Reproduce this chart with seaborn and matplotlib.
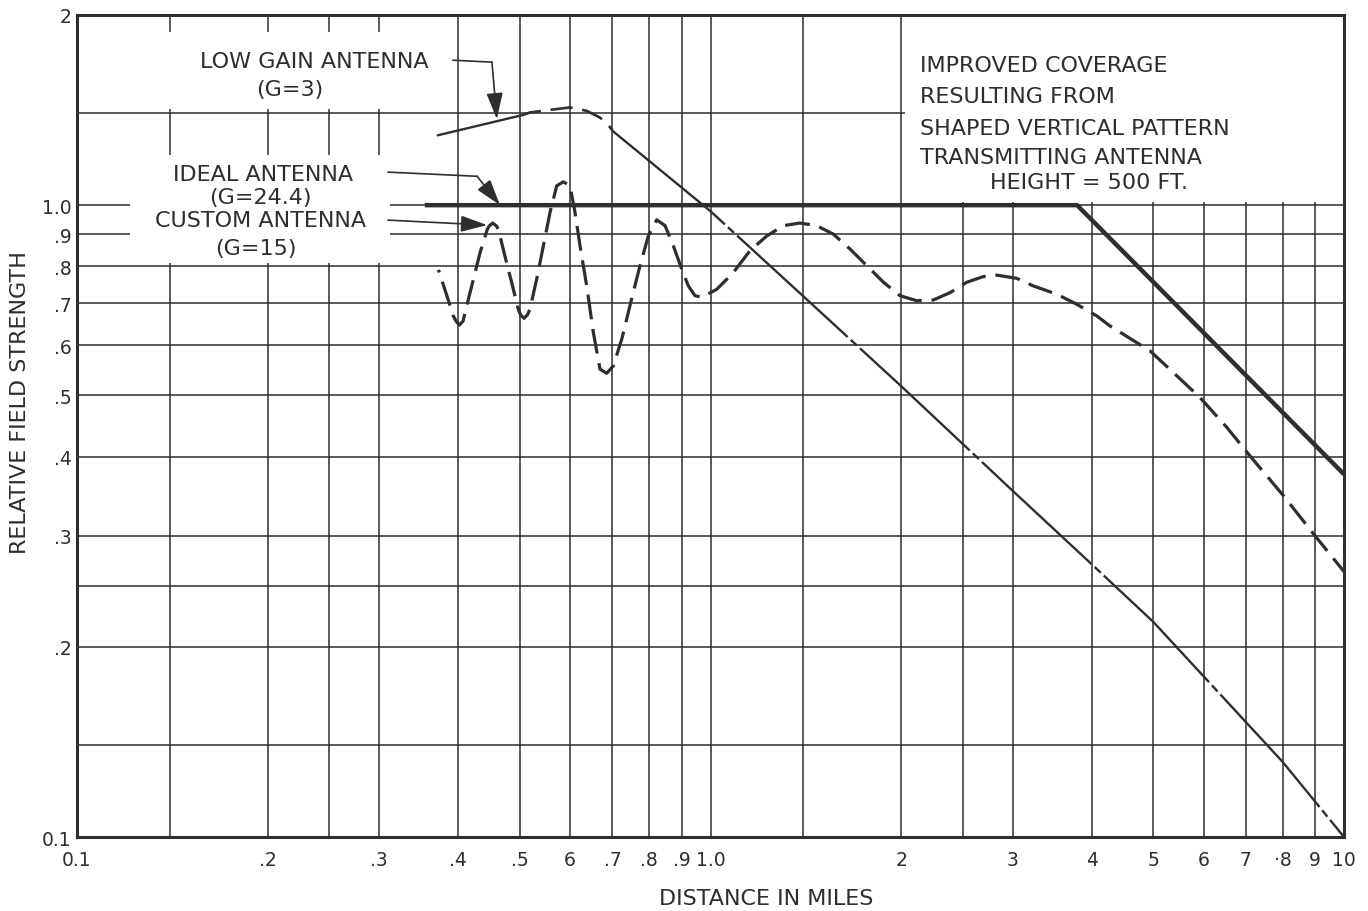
import matplotlib
matplotlib.use("Agg")
import matplotlib.pyplot as plt
import seaborn as sns
from matplotlib.patches import Rectangle
from matplotlib.ticker import NullLocator, FixedLocator

# ---------------- data ----------------
x_grid = [0.1, 0.14, 0.2, 0.25, 0.3, 0.4, 0.5, 0.6, 0.7, 0.8, 0.9, 1.0, 1.4,
          2, 2.5, 3, 4, 5, 6, 7, 8, 9, 10]
x_labels = ["0.1", "", ".2", "", ".3", ".4", ".5", "6", ".7", ".8", ".9", "1.0", "",
            "2", "", "3", "4", "5", "6", "7", "·8", "9", "10"]
y_grid = [0.1, 0.14, 0.2, 0.25, 0.3, 0.4, 0.5, 0.6, 0.7, 0.8, 0.9, 1.0, 1.4, 2]
y_labels = ["0.1", "", ".2", "", ".3", ".4", ".5", ".6", ".7", ".8", ".9", "1.0", "", "2"]

# Ideal antenna (G=24.4)
ideal_x = [0.354, 3.79, 10.0]
ideal_y = [1.0, 1.0, 0.375]

# Low gain antenna (G=3)
low_x = [0.371, 0.504, 0.519, 0.558, 0.600, 0.638, 0.669, 0.688, 0.701,
         1.0, 1.4, 2.0, 3.0, 4.0, 5.0, 7.0, 8.0, 10.0]
low_y = [1.29, 1.388, 1.402, 1.415, 1.428, 1.410, 1.376, 1.344, 1.31,
         0.978, 0.718, 0.517, 0.353, 0.270, 0.219, 0.152, 0.1315, 0.1]

# Custom antenna (G=15)
custom_x = [0.372, 0.3835, 0.3926, 0.3965, 0.4013, 0.4068, 0.4097, 0.4198, 0.4327, 0.4443,
            0.4470, 0.4531, 0.4595, 0.4624, 0.4736, 0.4853, 0.497, 0.5012, 0.5077, 0.5142,
            0.5188, 0.5316, 0.5446, 0.558, 0.5717, 0.5857, 0.600, 0.6111, 0.6223, 0.6376,
            0.6531, 0.6692, 0.6857, 0.7025, 0.7243, 0.746, 0.7738, 0.7977, 0.8223, 0.8477,
            0.8737, 0.9006, 0.9226, 0.945, 0.9685, 1.023, 1.086, 1.154, 1.227, 1.303,
            1.384, 1.471, 1.562, 1.661, 1.765, 1.875, 1.991, 2.116, 2.248, 2.388,
            2.537, 2.696, 2.830, 3.043, 3.233, 3.52, 3.784, 4.07, 4.27, 4.94,
            5.445, 5.925, 6.53, 7.105, 8.02, 8.945, 10.0]
custom_y = [0.790, 0.719, 0.668, 0.6555, 0.646, 0.6555, 0.676, 0.745, 0.841, 0.916,
            0.9265, 0.937, 0.9265, 0.916, 0.831, 0.755, 0.685, 0.671, 0.662, 0.671,
            0.685, 0.764, 0.862, 0.974, 1.073, 1.089, 1.073, 0.974, 0.862, 0.745,
            0.629, 0.550, 0.542, 0.557, 0.614, 0.693, 0.802, 0.894, 0.948, 0.928,
            0.862, 0.792, 0.745, 0.719, 0.715, 0.736, 0.782, 0.847, 0.894, 0.928,
            0.937, 0.928, 0.900, 0.852, 0.802, 0.755, 0.719, 0.706, 0.708, 0.727,
            0.755, 0.771, 0.775, 0.766, 0.745, 0.723, 0.697, 0.668, 0.644, 0.588,
            0.537, 0.496, 0.445, 0.401, 0.347, 0.302, 0.263]

# annotation leader lines (start, bend, arrow tip)
low_leader_x = [0.392, 0.4518, 0.460]
low_leader_y = [1.696, 1.684, 1.368]
ideal_leader_x = [0.3097, 0.428, 0.4653]
ideal_leader_y = [1.128, 1.111, 1.0]
custom_leader_x = [0.3097, 0.4439]
custom_leader_y = [0.947, 0.930]

# ---------------- styling ----------------
sns.set_theme(style="white")
plt.rcParams["font.family"] = ["DejaVu Sans"]
plt.rcParams["lines.scale_dashes"] = False
INK = "#2e2e2e"
FS = 16

fig, ax = plt.subplots(figsize=(13.68, 9.12), dpi=100)
fig.subplots_adjust(left=0.0563, right=0.9825, bottom=0.0811, top=0.9825)
fig.patch.set_facecolor("white")
ax.set_facecolor("white")

ax.set_xscale("log")
ax.set_yscale("log")
ax.set_xlim(0.1, 10)
ax.set_ylim(0.1, 2)

ax.xaxis.set_major_locator(FixedLocator(x_grid))
ax.yaxis.set_major_locator(FixedLocator(y_grid))
ax.xaxis.set_minor_locator(NullLocator())
ax.yaxis.set_minor_locator(NullLocator())
ax.set_xticklabels(x_labels)
ax.set_yticklabels(y_labels)
ax.tick_params(axis="both", length=0, labelsize=13.5, colors=INK)
ax.tick_params(axis="x", pad=9)
ax.tick_params(axis="y", pad=4)
ax.set_axisbelow(True)
ax.grid(True, which="major", color=INK, lw=1.1)
for s in ax.spines.values():
    s.set_color(INK)
    s.set_linewidth(2.2)

# white boxes behind the labels
for (x0, x1, y0, y1) in [(0.131, 0.392, 1.42, 1.88), (0.1213, 0.312, 0.81, 1.20),
                         (2.03, 10.0, 1.012, 2.0)]:
    ax.add_patch(Rectangle((x0, y0), x1 - x0, y1 - y0, facecolor="white",
                           edgecolor="none", zorder=1.5))

# ---------------- curves ----------------
sns.lineplot(x=ideal_x, y=ideal_y, sort=False, estimator=None, color=INK, lw=3.2,
             ax=ax, zorder=3, solid_capstyle="butt")
sns.lineplot(x=low_x[0:2], y=low_y[0:2], sort=False, estimator=None, color=INK, lw=1.7,
             ax=ax, zorder=3)
sns.lineplot(x=low_x[1:9], y=low_y[1:9], sort=False, estimator=None, color=INK, lw=1.9,
             ax=ax, zorder=3, linestyle=(2, (16, 7)))
sns.lineplot(x=low_x[8:], y=low_y[8:], sort=False, estimator=None, color=INK, lw=1.7,
             ax=ax, zorder=3, linestyle=(3, (108, 3, 6, 3)))
sns.lineplot(x=custom_x, y=custom_y, sort=False, estimator=None, color=INK, lw=2.3,
             ax=ax, zorder=3, linestyle=(16, (18, 7)))

# ---------------- annotations ----------------
arrow_kw = dict(arrowstyle="-|>,head_length=0.9,head_width=0.28", color=INK, lw=1.2,
                shrinkA=0, shrinkB=0, mutation_scale=18)
ax.plot(low_leader_x[:2], low_leader_y[:2], color=INK, lw=1.2, zorder=4)
ax.annotate("", xy=(low_leader_x[2], low_leader_y[2]),
            xytext=(low_leader_x[1], low_leader_y[1]), arrowprops=arrow_kw, zorder=4)
ax.plot(ideal_leader_x[:2], ideal_leader_y[:2], color=INK, lw=1.2, zorder=4)
ax.annotate("", xy=(ideal_leader_x[2], ideal_leader_y[2]),
            xytext=(ideal_leader_x[1], ideal_leader_y[1]), arrowprops=arrow_kw, zorder=4)
ax.annotate("", xy=(custom_leader_x[1], custom_leader_y[1]),
            xytext=(custom_leader_x[0], custom_leader_y[0]), arrowprops=arrow_kw, zorder=4)

tk = dict(transform=ax.transAxes, ha="center", va="center", fontsize=FS, color=INK, zorder=5)
ax.text(0.187, 0.944, "LOW GAIN ANTENNA", **tk)
ax.text(0.168, 0.910, "(G=3)", **tk)
ax.text(0.147, 0.8066, "IDEAL ANTENNA", **tk)
ax.text(0.145, 0.7786, "(G=24.4)", **tk)
ax.text(0.145, 0.7506, "CUSTOM ANTENNA", **tk)
ax.text(0.141, 0.7165, "(G=15)", **tk)

bk = dict(transform=ax.transAxes, ha="left", va="center", fontsize=FS, color=INK, zorder=5)
ax.text(0.6654, 0.939, "IMPROVED COVERAGE", **bk)
ax.text(0.6654, 0.9015, "RESULTING FROM", **bk)
ax.text(0.6654, 0.8625, "SHAPED VERTICAL PATTERN", **bk)
ax.text(0.6654, 0.8273, "TRANSMITTING ANTENNA", **bk)
ax.text(0.7987, 0.7968, "HEIGHT = 500 FT.", transform=ax.transAxes, ha="center",
        va="center", fontsize=FS, color=INK, zorder=5)

ax.set_xlabel("DISTANCE IN MILES", fontsize=FS, color=INK)
ax.set_ylabel("RELATIVE FIELD STRENGTH", fontsize=FS, color=INK)
ax.xaxis.set_label_coords(0.5438, -0.062)
ax.yaxis.set_label_coords(-0.0375, 0.530)

fig.savefig("out.png", dpi=100, facecolor="white")
